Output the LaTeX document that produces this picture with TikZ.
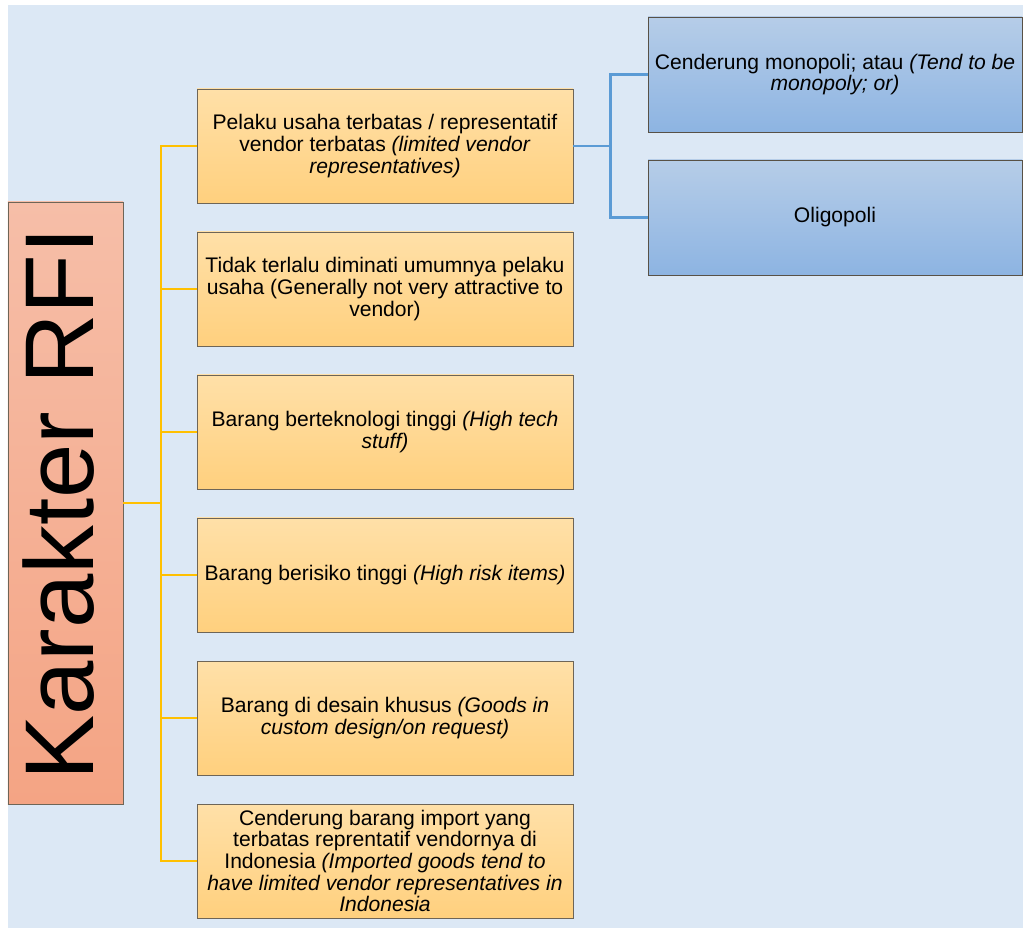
\documentclass[tikz,border=0pt]{standalone}
\usepackage{fontspec}
\setmainfont{Liberation Sans}
\usepackage{tikz}
\usepackage{xcolor}
\usetikzlibrary{positioning}
\definecolor{bgblue}{HTML}{DCE8F5}
\definecolor{rfitop}{HTML}{F6BEA8}
\definecolor{rfibot}{HTML}{F4A484}
\definecolor{kuntop}{HTML}{FFE0A8}
\definecolor{kunbot}{HTML}{FFD07E}
\definecolor{birtop}{HTML}{B6CDE8}
\definecolor{birbot}{HTML}{8DB4E2}
\definecolor{kunline}{HTML}{FFC000}
\definecolor{birline}{HTML}{5B9BD5}
\definecolor{rim}{HTML}{6E6557}
\tikzset{
  kbox/.style={rectangle,draw=rim,line width=0.7pt,top color=kuntop,bottom color=kunbot,
    minimum width=9.4cm,minimum height=2.85cm,align=center,inner sep=2pt,
    font=\fontsize{15}{15.4}\selectfont},
  bbox/.style={rectangle,draw=rim!80!black,line width=0.7pt,top color=birtop,bottom color=birbot,
    minimum width=9.35cm,minimum height=2.875cm,align=center,inner sep=2pt,
    font=\fontsize{15}{15.4}\selectfont},
  kline/.style={draw=kunline,line width=2pt},
  bline/.style={draw=birline,line width=2pt}
}

\begin{document}
\begin{tikzpicture}
    \useasboundingbox (0,0) rectangle (25.575,23.2);
    \fill [bgblue] (0.2,0) rectangle (25.575,23.075);

    \node at (1.6375, 10.625) [rectangle,draw=rim,line width=0.7pt,top color=rfitop,bottom color=rfibot,
      minimum width=2.875cm,minimum height=15.05cm] (rfi) {};
    \node at (1.47, 10.6) [rotate=90,font=\fontsize{69.5}{70}\selectfont] (rfitext) {Karakter RFI};

    \node at (9.625, 19.55) [kbox] (pelaku) {Pelaku usaha terbatas / representatif\\ vendor terbatas \textit{(limited vendor}\\ \textit{representatives)}};
    \node at (9.625, 15.975) [kbox] (minat) {Tidak terlalu diminati umumnya pelaku\\ usaha (Generally not very attractive to\\ vendor)};
    \node at (9.625, 12.4) [kbox] (tekno) {Barang berteknologi tinggi \textit{(High tech}\\ \textit{stuff)}};
    \node at (9.625, 8.825) [kbox] (risiko) {Barang berisiko tinggi \textit{(High risk items)}};
    \node at (9.625, 5.25) [kbox] (desain) {Barang di desain khusus \textit{(Goods in}\\ \textit{custom design/on request)}};
    \node at (9.625, 1.675) [kbox] (impor) {Cenderung barang import yang\\ terbatas reprentatif vendornya di\\ Indonesia \textit{(Imported goods tend to}\\ \textit{have limited vendor representatives in}\\ \textit{Indonesia}};

    \node at (20.875, 21.3375) [bbox] (mono) {Cenderung monopoli; atau \textit{(Tend to be}\\ \textit{monopoly; or)}};
    \node at (20.875, 17.7625) [bbox] (oligo) {Oligopoli};

    % connectors
    \coordinate (ksplit) at (4.025, 10.625);
    \coordinate (bsplit) at (15.27, 19.55);
    \draw [kline] (rfi.east) -- (ksplit);
    \foreach \n in {pelaku,minat,tekno,risiko,desain,impor}
      \draw [kline] (ksplit) |- (\n.west);
    \draw [bline] (pelaku.east) -- (bsplit);
    \draw [bline] (bsplit) |- (mono.west);
    \draw [bline] (bsplit) |- (oligo.west);
  \end{tikzpicture}
\end{document}
